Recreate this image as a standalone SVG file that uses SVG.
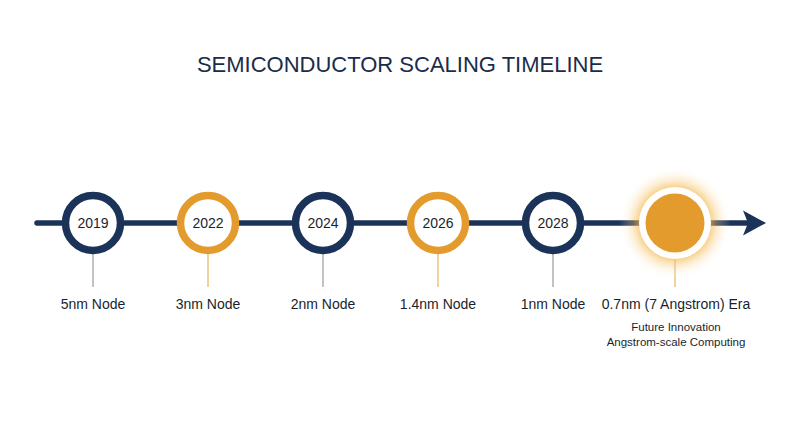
<svg xmlns="http://www.w3.org/2000/svg" width="800" height="447" viewBox="0 0 800 447">
<defs>
<style>
.title{font-family:"Liberation Sans",Arial,sans-serif;font-size:22px;fill:#1b2c4b;text-anchor:middle}
.year{font-family:"Liberation Sans",Arial,sans-serif;font-size:14px;fill:#1a1f2e;text-anchor:middle}
.lbl{font-family:"Liberation Sans",Arial,sans-serif;font-size:14px;fill:#1a1f2e;text-anchor:middle}
.sub{font-family:"Liberation Sans",Arial,sans-serif;font-size:11.5px;fill:#1a1f2e;text-anchor:middle}
.navy{fill:#fff;stroke:#1c3359;stroke-width:7.5}
.gold{fill:#fff;stroke:#e39b2d;stroke-width:7.5}
.tick-n{stroke:#9a9a9a;stroke-width:1.2}
.tick-g{stroke:#e6b460;stroke-width:1.2}
</style>
<radialGradient id="glow" cx="0.5" cy="0.5" r="0.5">
<stop offset="0.6" stop-color="#f3b545" stop-opacity="0.75"/>
<stop offset="0.75" stop-color="#f6c46a" stop-opacity="0.35"/>
<stop offset="1" stop-color="#ffffff" stop-opacity="0"/>
</radialGradient>
</defs>
<rect width="800" height="447" fill="#ffffff"/>
<text class="title" x="400" y="72">SEMICONDUCTOR SCALING TIMELINE</text>
<g id="connectors">
<line x1="37" y1="223" x2="748" y2="223" stroke="#1c3359" stroke-width="5.5" stroke-linecap="round"/>
<polygon points="766,223 743,210.5 748,223 743,235.5" fill="#1c3359"/>
<line class="tick-n" x1="93" y1="254" x2="93" y2="287"/>
<line class="tick-g" x1="208" y1="254" x2="208" y2="287"/>
<line class="tick-n" x1="323" y1="254" x2="323" y2="287"/>
<line class="tick-g" x1="438" y1="254" x2="438" y2="287"/>
<line class="tick-n" x1="553" y1="254" x2="553" y2="287"/>
<line class="tick-g" x1="675" y1="258" x2="675" y2="287"/>
</g>
<g id="node-2019">
<circle class="navy" cx="93" cy="223" r="27.5"/>
<text class="year" x="93" y="228">2019</text>
<text class="lbl" x="93" y="309">5nm Node</text>
</g>
<g id="node-2022">
<circle class="gold" cx="208" cy="223" r="27.5"/>
<text class="year" x="208" y="228">2022</text>
<text class="lbl" x="208" y="309">3nm Node</text>
</g>
<g id="node-2024">
<circle class="navy" cx="323" cy="223" r="27.5"/>
<text class="year" x="323" y="228">2024</text>
<text class="lbl" x="323" y="309">2nm Node</text>
</g>
<g id="node-2026">
<circle class="gold" cx="438" cy="223" r="27.5"/>
<text class="year" x="438" y="228">2026</text>
<text class="lbl" x="438" y="309">1.4nm Node</text>
</g>
<g id="node-2028">
<circle class="navy" cx="553" cy="223" r="27.5"/>
<text class="year" x="553" y="228">2028</text>
<text class="lbl" x="553" y="309">1nm Node</text>
</g>
<g id="node-future">
<circle cx="675" cy="223" r="56" fill="url(#glow)"/>
<circle cx="675" cy="223" r="36" fill="#ffffff"/>
<circle cx="675" cy="223" r="29.5" fill="#e39b2d"/>
<text class="lbl" x="676" y="309">0.7nm (7 Angstrom) Era</text>
<text class="sub" x="676" y="331">Future Innovation</text>
<text class="sub" x="676" y="346">Angstrom-scale Computing</text>
</g>
</svg>
